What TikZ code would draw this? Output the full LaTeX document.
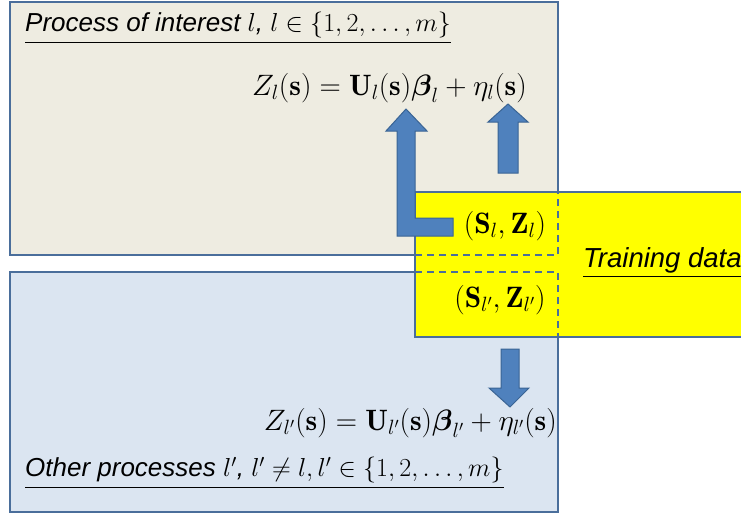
\RequirePackage{fix-cm}
\documentclass[tikz,border=0pt]{standalone}
\usepackage{amsmath}
\usepackage{amssymb}
\usepackage{fontspec}
\setsansfont{Liberation Sans}
\usepackage{tikz}
\usetikzlibrary{calc}
\definecolor{bejArka}{HTML}{EEECE1}
\definecolor{maviArka}{HTML}{DBE5F1}
\definecolor{cerceve}{HTML}{4A6E9B}
\definecolor{okMavi}{HTML}{4F81BD}
\definecolor{okKenar}{HTML}{3A6494}
\definecolor{sari}{HTML}{FFFF00}

\tikzset{
  kutu/.style={draw=cerceve,line width=1.4pt},
  okblok/.style={fill=okMavi,draw=okKenar,line width=1pt},
  yazi/.style={font=\fontsize{29.5}{34}\selectfont,inner sep=0pt},
  baslik/.style={inner sep=0pt,font=\fontsize{26}{30}\selectfont\sffamily\itshape}
}

\begin{document}
\begin{tikzpicture}[x=1pt,y=-1pt]
\useasboundingbox (0,0) rectangle (741,514);
% kutular
\draw[kutu,fill=bejArka] (10,2) rectangle (558,255);
\draw[kutu,fill=maviArka] (10,272) rectangle (558,512);
\draw[kutu,fill=sari] (415,192) rectangle (745,337);
\draw[cerceve,line width=1.4pt,dash pattern=on 7pt off 5pt] (415,255) -- (558,255) -- (558,192);
\draw[cerceve,line width=1.4pt,dash pattern=on 7pt off 5pt] (415,272) -- (558,272) -- (558,337);
% metinler
\node[baslik,anchor=west] (ilgi) at (25,28) {\underline{Process of interest $l$, $l\in\{1,2,\dots,m\}$}};
\node[yazi,anchor=east] (denk1) at (527,88) {$Z_l(\mathbf{s})=\mathbf{U}_l(\mathbf{s})\boldsymbol{\beta}_l+\eta_l(\mathbf{s})$};
\node[yazi] (veri1) at (505,226) {$(\mathbf{S}_l,\mathbf{Z}_l)$};
\node[yazi] (veri2) at (500,300) {$(\mathbf{S}_{l'},\mathbf{Z}_{l'})$};
\node[baslik,anchor=west,font=\fontsize{27.5}{32}\selectfont\sffamily\itshape] (egitim) at (583,263) {\underline{Training data}};
\node[yazi,anchor=east] (denk2) at (557,423) {$Z_{l'}(\mathbf{s})=\mathbf{U}_{l'}(\mathbf{s})\boldsymbol{\beta}_{l'}+\eta_{l'}(\mathbf{s})$};
\node[baslik,anchor=west] (diger) at (25,473) {\underline{Other processes $l'$, $l'\neq l, l'\in\{1,2,\dots,m\}$}};
% oklar
\coordinate (kuyrukA) at (453,227);
\coordinate (ucA) at (406,109);
\coordinate (kuyrukB) at (508,173);
\coordinate (ucB) at (508,104);
\coordinate (kuyrukC) at (510,349);
\coordinate (ucC) at (510,407);
\draw[okblok] ($(kuyrukA)+(0,-9)$) -- ($(ucA |- kuyrukA)+(9,-9)$) -- ($(ucA)+(9,22)$)
  -- ($(ucA)+(21,22)$) -- (ucA) -- ($(ucA)+(-20,22)$) -- ($(ucA)+(-9,22)$)
  -- ($(ucA |- kuyrukA)+(-9,9)$) -- ($(kuyrukA)+(0,9)$) -- cycle;
\draw[okblok] ($(kuyrukB)+(-10,0)$) -- ($(ucB)+(-10,18)$) -- ($(ucB)+(-20,18)$) -- (ucB)
  -- ($(ucB)+(20,18)$) -- ($(ucB)+(10,18)$) -- ($(kuyrukB)+(10,0)$) -- cycle;
\draw[okblok] ($(kuyrukC)+(-9,0)$) -- ($(ucC)+(-9,-19)$) -- ($(ucC)+(-21,-19)$) -- (ucC)
  -- ($(ucC)+(19,-19)$) -- ($(ucC)+(9,-19)$) -- ($(kuyrukC)+(9,0)$) -- cycle;
\end{tikzpicture}
\end{document}
